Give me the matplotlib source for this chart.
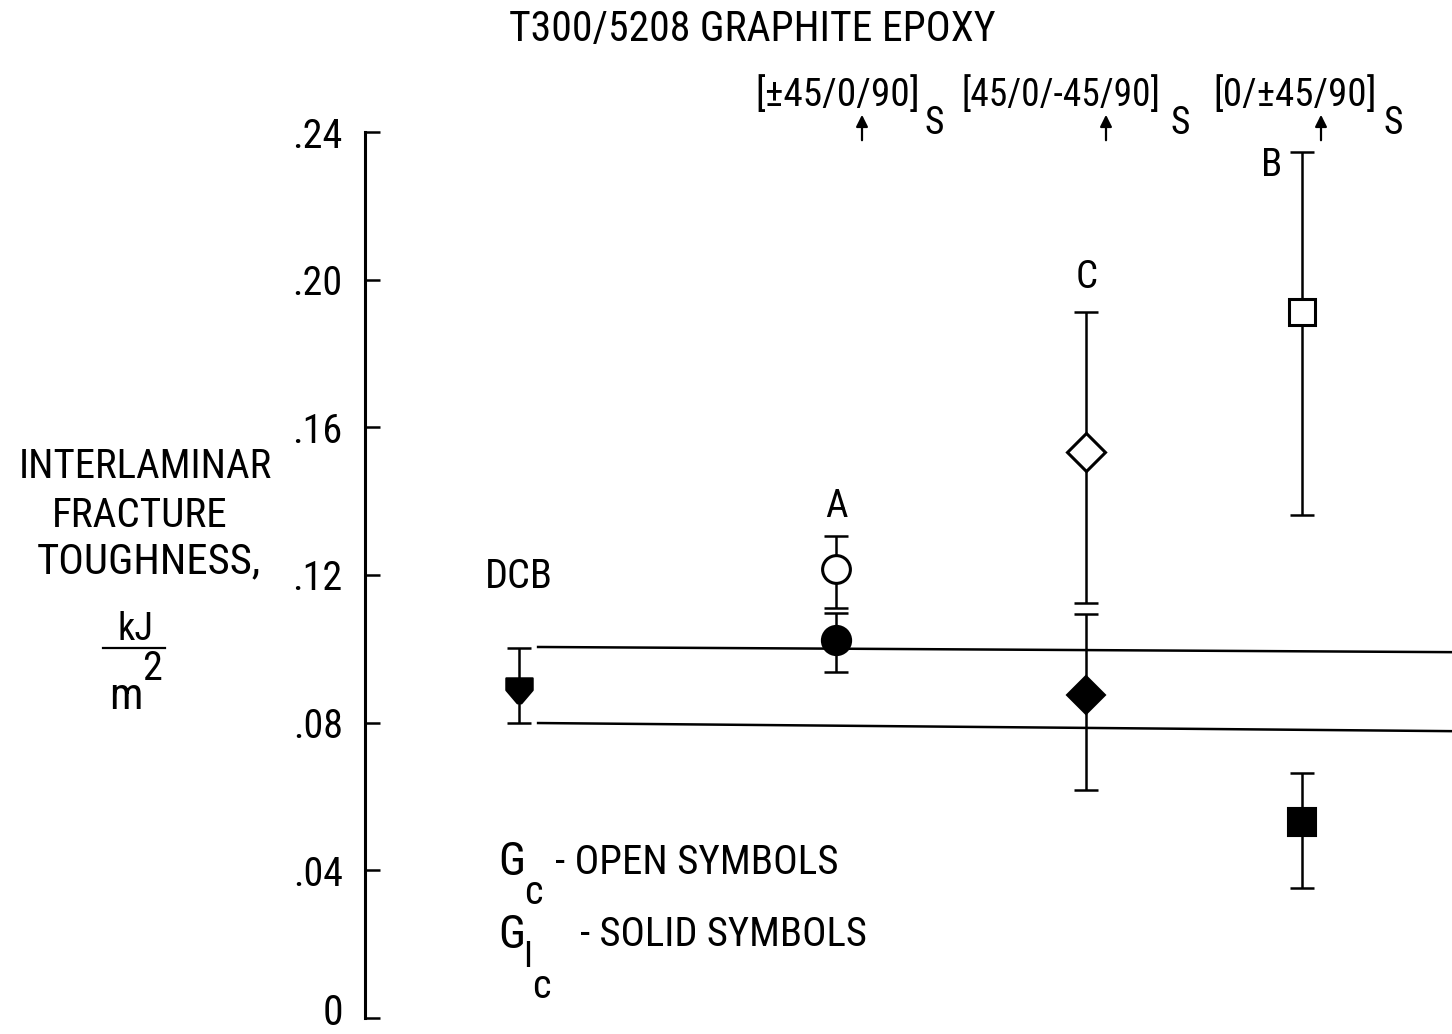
import numpy as np
import matplotlib
matplotlib.use("Agg")
import matplotlib.pyplot as plt
from matplotlib import font_manager
from matplotlib.path import Path
from matplotlib.lines import Line2D
from matplotlib.patches import FancyArrowPatch
from matplotlib.transforms import ScaledTranslation

# look for a narrow face, the scan uses a condensed sans
fonts = font_manager.fontManager.ttflist
names = {f.name for f in fonts}
FONT, STRETCH = "Roboto", "normal"
for cand in ["Liberation Sans Narrow", "Roboto Condensed", "Open Sans Condensed", "Noto Sans Display"]:
    if cand in names:
        FONT = cand
        break
else:
    if any(f.name == "DejaVu Sans" and str(f.stretch) == "condensed" for f in fonts):
        FONT, STRETCH = "DejaVu Sans", "condensed"
plt.rcParams["font.family"] = [FONT, "DejaVu Sans"]
plt.rcParams["font.stretch"] = STRETCH

# data (kJ/m^2)
groups = ["DCB", "A", "C", "B"]
xpos = [1.0, 2.0, 2.79, 3.47]
layups = ["[\u00b145/0/90]", "[45/0/-45/90]", "[0/\u00b145/90]"]

gc_val = [0.1216, 0.1533, 0.1912]      # open symbols (A, C, B)
gc_lo = [0.1110, 0.1124, 0.1362]
gc_hi = [0.1305, 0.1912, 0.2345]

g1c_val = [0.0885, 0.1024, 0.0875, 0.0531]   # solid symbols (DCB, A, C, B)
g1c_lo = [0.0799, 0.0937, 0.0617, 0.0352]
g1c_hi = [0.1002, 0.1097, 0.1094, 0.0664]

# DCB scatter band
band_hi = [0.1005, 0.0991]
band_lo = [0.0799, 0.0777]

yticks = [0, 0.04, 0.08, 0.12, 0.16, 0.20, 0.24]
ytick_labels = ["0", ".04", ".08", ".12", ".16", ".20", ".24"]

W, H = 1452, 1034
fig = plt.figure(figsize=(W / 100, H / 100), dpi=100)
renderer = fig.canvas.get_renderer()

def px(x, y):
    return x / W, 1 - y / H

def fit(t, width):
    # shrink a text until it is no wider than in the scan
    bb = t.get_window_extent(renderer)
    if bb.width > width:
        t.set_fontsize(t.get_fontsize() * width / bb.width)
    return t

ax = fig.add_axes([365 / W, 1 - 1018 / H, (W - 365) / W, (1018 - 132) / H])
ax.set_xlim(0.514, 3.943)
ax.set_ylim(0, 0.24)
for s in ["top", "right", "bottom"]:
    ax.spines[s].set_visible(False)
ax.spines["left"].set_linewidth(2.2)
ax.set_xticks([])
ax.set_yticks(yticks)
ax.set_yticklabels(ytick_labels)
ax.tick_params(axis="y", direction="in", length=11, width=1.8, pad=16, labelsize=30)
for lab in ax.get_yticklabels():
    fit(lab, 50)
# nudge the "0" up so it stays inside the picture
zero = ax.yaxis.get_major_ticks()[0].label1
zero.set_transform(zero.get_transform() + ScaledTranslation(0, 0.09, fig.dpi_scale_trans))

shield = Path([(-1, 1), (1, 1), (1, 0.1), (0.15, -0.9), (-0.15, -0.9), (-1, 0.1), (-1, 1)],
              [Path.MOVETO] + [Path.LINETO] * 5 + [Path.CLOSEPOLY])

eb = dict(fmt="none", ecolor="black", elinewidth=1.8, capsize=8.5, capthick=1.8, zorder=2)

# band lines
ax.plot([xpos[0] + 0.06, 3.943], band_hi, color="black", lw=1.8, zorder=1)
ax.plot([xpos[0] + 0.06, 3.943], band_lo, color="black", lw=1.8, zorder=1)

# solid symbols
solid_markers = [shield, "o", "D", "s"]
solid_sizes = [19, 21, 19, 20]
for i in range(4):
    y = g1c_val[i]
    ax.errorbar(xpos[i], y, yerr=[[y - g1c_lo[i]], [g1c_hi[i] - y]], **eb)
    ax.plot(xpos[i], y, marker=solid_markers[i], ms=solid_sizes[i], mfc="black",
            mec="black", mew=1.5, ls="none", zorder=3)

# open symbols
open_markers = ["o", "D", "s"]
open_sizes = [20, 19, 19]
for i in range(3):
    y = gc_val[i]
    ax.errorbar(xpos[i + 1], y, yerr=[[y - gc_lo[i]], [gc_hi[i] - y]], **eb)
    ax.plot(xpos[i + 1], y, marker=open_markers[i], ms=open_sizes[i], mfc="white",
            mec="black", mew=2.2, ls="none", zorder=3)

# group letters
fit(ax.text(xpos[0], 0.1195, "DCB", ha="center", va="center", fontsize=29), 70)
ax.text(xpos[1], 0.1385, "A", ha="center", va="center", fontsize=28)
ax.text(xpos[2], 0.2005, "C", ha="center", va="center", fontsize=28)
ax.text(xpos[3] - 0.095, 0.2310, "B", ha="center", va="center", fontsize=28)

# title and layups
fit(fig.text(*px(752, 30), "T300/5208 GRAPHITE EPOXY", ha="center", va="center",
             fontsize=31), 485)
lay_x = [755, 962, 1213]
lay_w = [165, 200, 164]
s_x = [934, 1180, 1393]
arrow_x = [862, 1106, 1321]
for i in range(3):
    fit(fig.text(*px(lay_x[i], 95), layups[i], ha="left", va="center", fontsize=32), lay_w[i])
    fig.text(*px(s_x[i], 124), "S", ha="center", va="center", fontsize=27)
    fig.add_artist(FancyArrowPatch(
        px(arrow_x[i], 143), px(arrow_x[i], 112), transform=fig.transFigure,
        arrowstyle="-|>,head_length=7,head_width=3.5", color="black", lw=1.6))

# y label
fit(fig.text(*px(145, 467), "INTERLAMINAR", ha="center", va="center", fontsize=34), 254)
fit(fig.text(*px(140, 515), "FRACTURE", ha="center", va="center", fontsize=34), 176)
fit(fig.text(*px(149, 562), "TOUGHNESS,", ha="center", va="center", fontsize=34), 225)
fit(fig.text(*px(135, 630), "kJ", ha="center", va="center", fontsize=32), 36)
fig.add_artist(Line2D([103 / W, 165 / W], [1 - 648 / H] * 2, color="black", lw=1.6))
fig.text(*px(126, 697), "m", ha="center", va="center", fontsize=32)
fig.text(*px(152, 668), "2", ha="center", va="center", fontsize=29)

# legend text
fig.text(*px(498, 862), "G", ha="left", va="center", fontsize=33)
fig.text(*px(533, 893), "c", ha="center", va="center", fontsize=29)
fit(fig.text(*px(555, 862), "- OPEN SYMBOLS", ha="left", va="center", fontsize=33), 284)
fig.text(*px(498, 935), "G", ha="left", va="center", fontsize=33)
fig.text(*px(528, 957), "I", ha="center", va="center", fontsize=26)
fig.text(*px(541, 986), "c", ha="center", va="center", fontsize=29)
fit(fig.text(*px(580, 935), "- SOLID SYMBOLS", ha="left", va="center", fontsize=33), 287)

fig.savefig("out.png", dpi=100)
